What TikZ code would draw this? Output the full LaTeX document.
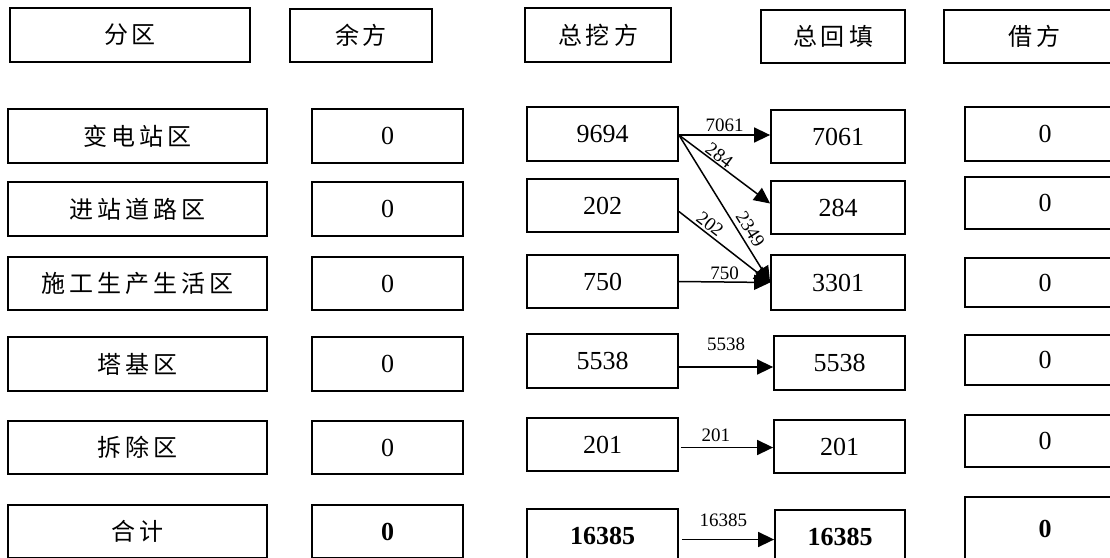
\documentclass[tikz,border=0pt]{standalone}
\usepackage{fontspec}
\setmainfont{Liberation Serif}
\newfontfamily\cjk{Noto Sans CJK SC}
\usetikzlibrary{arrows.meta}
\newcommand\gp{\hskip 4pt}
\newcommand\mybox[7]{\node[box,#6,minimum width={(#4-#2)*1pt},minimum height={(#5-#3)*1pt}] (#1) at ({(#2+#4)/2},{(#3+#5)/2}) {#7};}
\begin{document}
\begin{tikzpicture}[x=1pt,y=-1pt,
  box/.style={draw, line width=1.8pt, inner sep=0pt},
  cn/.style={font=\cjk\fontsize{24}{24}\selectfont},
  num/.style={font=\fontsize{26}{26}\selectfont},
  bnum/.style={font=\bfseries\fontsize{26}{26}\selectfont},
  flow/.style={line width=1.5pt, -{Triangle[length=16pt,width=15pt]}},
  lab/.style={font=\fontsize{19}{19}\selectfont, inner sep=1pt}]
\clip (0,0) rectangle (1110,557);
% headers
\mybox{h1}{10}{8}{250}{62}{cn}{分\gp 区}
\mybox{h2}{290}{9}{432}{62}{cn}{余\gp 方}
\mybox{h3}{525}{8}{671}{62}{cn}{总\gp 挖\gp 方}
\mybox{h4}{761}{10}{905}{63}{cn}{总\gp 回\gp 填}
\mybox{h5}{944}{10}{1125}{63}{cn}{借\gp 方}
% column 1
\mybox{a1}{8}{109}{267}{163}{cn}{变\gp 电\gp 站\gp 区}
\mybox{a2}{8}{182}{267}{236}{cn}{进\gp 站\gp 道\gp 路\gp 区}
\mybox{a3}{8}{257}{267}{310}{cn}{施\gp 工\gp 生\gp 产\gp 生\gp 活\gp 区}
\mybox{a4}{8}{337}{267}{391}{cn}{塔\gp 基\gp 区}
\mybox{a5}{8}{421}{267}{474}{cn}{拆\gp 除\gp 区}
\mybox{a6}{8}{505}{267}{558}{cn}{合\gp 计}
% column 2
\mybox{b1}{312}{109}{463}{163}{num}{0}
\mybox{b2}{312}{182}{463}{236}{num}{0}
\mybox{b3}{312}{257}{463}{310}{num}{0}
\mybox{b4}{312}{337}{463}{391}{num}{0}
\mybox{b5}{312}{421}{463}{474}{num}{0}
\mybox{b6}{312}{505}{463}{558}{bnum}{0}
% column 3
\mybox{e1}{527}{107}{678}{161}{num}{9694}
\mybox{e2}{527}{179}{678}{232}{num}{202}
\mybox{e3}{527}{255}{678}{308}{num}{750}
\mybox{e4}{527}{334}{678}{388}{num}{5538}
\mybox{e5}{527}{418}{678}{471}{num}{201}
\mybox{e6}{527}{509}{678}{562}{bnum}{16385}
% column 4
\mybox{f1}{771}{110}{905}{163}{num}{7061}
\mybox{f2}{771}{181}{905}{234}{num}{284}
\mybox{f3}{771}{255}{905}{310}{num}{3301}
\mybox{f4}{774}{336}{905}{390}{num}{5538}
\mybox{f5}{774}{420}{905}{473}{num}{201}
\mybox{f6}{775}{510}{905}{563}{bnum}{16385}
% column 5
\mybox{g1}{965}{107}{1125}{161}{num}{0}
\mybox{g2}{965}{177}{1125}{229}{num}{0}
\mybox{g3}{965}{258}{1125}{307}{num}{0}
\mybox{g4}{965}{335}{1125}{385}{num}{0}
\mybox{g5}{965}{415}{1125}{467}{num}{0}
\mybox{g6}{965}{497}{1125}{560}{bnum}{0}
% flows
\coordinate (s1) at ([yshift=-1pt]e1.east);
\coordinate (s2) at ([yshift=-6pt]e2.east);
\draw[flow] (s1) -- (s1 -| f1.west) node[lab,midway,above=2pt]{7061};
\draw[flow] (s1) -- ([yshift=4pt]f2.west) node[lab,pos=0.39,sloped,above=0pt]{284};
\draw[flow] (s1) -- (f3.west) node[lab,pos=0.68,sloped,above=3pt]{2349};
\draw[flow] (s2) -- (f3.west) node[lab,pos=0.28,sloped,above=1pt]{202};
\draw[flow] (e3.east) -- (f3.west) node[lab,midway,above=1pt]{750};
\coordinate (s4) at ([yshift=-6pt]e4.east);
\draw[flow] (s4) -- (s4 -| f4.west) node[lab,midway,above=15pt]{5538};
\coordinate (s5) at ([xshift=2pt,yshift=-3pt]e5.east);
\draw[flow] (s5) -- (s5 -| f5.west) node[lab,pos=0.38,above=4pt]{201};
\coordinate (s6) at ([xshift=3pt,yshift=-4pt]e6.east);
\draw[flow] (s6) -- (s6 -| f6.west) node[lab,pos=0.45,above=11pt]{16385};
\end{tikzpicture}
\end{document}
